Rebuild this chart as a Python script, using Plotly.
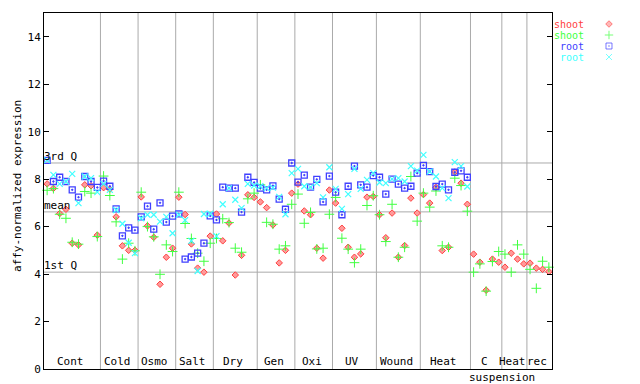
import plotly.graph_objects as go

# ---------------- data ----------------
group_labels = ["Cont", "Cold", "Osmo", "Salt", "Dry", "Gen", "Oxi", "UV",
                "Wound", "Heat", "C suspension", "Heat", "rec"]
group_sizes = [9, 6, 6, 6, 7, 6, 6, 7, 7, 8, 5, 4, 4]

shoot_a = [7.8, 7.61, 6.55, 6.73, 5.3, 5.23, 7.76, 7.72, 5.64,
           7.64, 7.58, 6.41, 5.19, 5.0, 5.0,
           7.25, 6.03, 5.55, 3.57, 4.71, 5.09,
           7.24, 6.51, 5.27, 4.25, 4.08, 5.6,
           6.53, 5.4, 6.15, 3.96, 4.79, 7.34, 7.23,
           7.04, 6.8, 6.07, 4.47, 5.0, 7.41,
           7.79, 6.66, 6.5, 5.09, 4.67, 7.54,
           6.99, 5.93, 5.13, 4.71, 4.85, 7.24, 7.27,
           6.5, 5.53, 6.57, 4.71, 5.2, 7.2, 6.57,
           7.35, 6.99, 7.65, 4.99, 5.13, 8.3, 7.83, 6.94,
           4.84, 4.5, 3.32, 4.63, 4.5,
           4.29, 4.88, 4.63, 4.43,
           4.46, 4.25, 4.2, 4.1]
shoot_b = [7.53, 7.6, 6.52, 6.35, 5.34, 5.26, 7.48, 7.41, 5.58,
           8.13, 7.31, 6.2, 4.63, 5.3, 4.98,
           7.45, 6.0, 5.57, 3.99, 5.23, 4.95,
           7.45, 6.13, 5.5, 4.88, 4.54, 5.3,
           5.5, 6.33, 6.17, 5.09, 4.92, 7.17, 7.41,
           7.76, 6.18, 6.1, 5.05, 5.19, 6.94,
           7.37, 6.14, 6.6, 5.06, 5.09, 6.52,
           7.23, 5.51, 5.05, 4.48, 5.05, 6.89, 7.3,
           6.5, 5.37, 6.94, 4.71, 5.13, 8.11, 6.23,
           7.41, 6.82, 7.5, 5.19, 5.13, 8.04, 7.73, 6.65,
           4.08, 4.43, 3.28, 4.53, 4.95,
           4.84, 4.08, 5.23, 4.84,
           4.2, 3.4, 4.54, 4.29]
root_a = [8.79, 7.9, 8.08, 7.9, 7.55, 7.24, 8.11, 7.9, 7.65,
          7.92, 7.7, 6.75, 5.61, 5.95, 5.85,
          6.41, 6.86, 5.89, 7.0, 6.19, 6.44,
          6.54, 4.63, 4.72, 4.88, 5.3, 6.45,
          6.28, 7.66, 7.62, 7.62, 6.61, 8.08, 7.86,
          7.62, 7.55, 7.72, 7.16, 6.73, 8.68,
          7.87, 8.17, 7.66, 7.99, 7.04, 8.13,
          7.45, 6.5, 7.7, 8.55, 7.76, 7.66, 8.15,
          8.08, 7.37, 8.0, 7.79, 7.62, 7.7, 8.25,
          8.58, 8.32, 7.69, 7.79, 7.55, 8.29, 8.35, 8.08] + [None] * 13
root_b = [8.8, 8.18, 7.8, 7.9, 8.22, 6.99, 8.11, 8.04, 7.45,
          7.8, 7.55, 6.7, 6.12, 5.32, 4.88,
          6.35, 6.5, 6.5, 6.21, 6.41, 5.72,
          6.5, 6.27, 5.4, 4.13, 6.53, 6.54,
          5.6, 6.94, 7.62, 7.13, 6.78, 7.8, 7.73,
          7.7, 7.62, 7.64, 7.25, 6.52, 8.25,
          8.43, 7.7, 7.66, 7.83, 7.23, 8.5,
          7.59, 6.75, 7.37, 8.43, 7.59, 7.97, 8.25,
          7.86, 7.83, 8.0, 8.04, 7.9, 8.55, 8.36,
          9.02, 8.32, 8.11, 7.62, 7.2, 8.72, 8.55, 7.69] + [None] * 13

quartile_labels = ["3rd Q", "mean", "1st Q"]
quartile_values = [8.68, 6.62, 4.08]

series_names = ["shoot", "shoot", "root", "root"]
y_ticks = [0, 2, 4, 6, 8, 10, 12, 14]

# ---------------- figure ----------------
FONT = "DejaVu Sans Mono"
OFF = 8                      # page body margin of the html page
W, H = 640 - OFF, 384 - OFF
ML, MT = 44 - OFF, 13 - OFF
PLOT_BOTTOM = 369            # in page pixels
MB = H - (PLOT_BOTTOM - OFF)
plot_w = 508
paper_w = W - ML
main_dom = plot_w / paper_w

n = len(shoot_a)
xs = list(range(n))

styles = [
    dict(symbol="diamond", size=5, color="#ff9a9a", line=dict(color="#ff4040", width=1)),
    dict(symbol="cross-thin", size=7, color="#40ff40", line=dict(color="#40ff40", width=1)),
    dict(symbol="square-open-dot", size=6, color="#4040ff", line=dict(color="#4040ff", width=1.3)),
    dict(symbol="x-thin", size=6, color="#40ffff", line=dict(color="#40ffff", width=1.2)),
]
text_colors = ["#ff4040", "#40ff40", "#4040ff", "#40ffff"]

fig = go.Figure()
for vals, st, nm in zip([shoot_a, shoot_b, root_a, root_b], styles, series_names):
    fig.add_trace(go.Scatter(x=xs, y=vals, mode="markers", marker=st, name=nm,
                             showlegend=False, cliponaxis=False))

# legend (manual, on an overlay axis measured in page pixels)
leg_rows = [24, 35, 46, 57]
x2_lo = 44 + (main_dom + 0.005) * paper_w
fig.add_trace(go.Scatter(x=[609] * 4, y=leg_rows, mode="markers",
                         marker=dict(symbol=[s["symbol"] for s in styles],
                                     size=[5, 6, 6, 6],
                                     color=[s["color"] for s in styles],
                                     line=dict(color=text_colors, width=1)),
                         xaxis="x2", yaxis="y2", showlegend=False))
for nm, col, yy in zip(series_names, text_colors, leg_rows):
    fig.add_annotation(x=586, y=yy, xref="x2", yref="y2", text=nm, showarrow=False,
                       xanchor="right", yanchor="middle",
                       font=dict(family=FONT, size=10, color=col))

# group separators and labels
shapes = []
start = 0
for lab, sz in zip(group_labels, group_sizes):
    end = start + sz
    if end < n:
        shapes.append(dict(type="line", xref="x", yref="paper", x0=end - 0.5, x1=end - 0.5,
                           y0=0, y1=1, line=dict(color="#aaaaaa", width=1), layer="below"))
    cx = (start + end - 1) / 2
    words = lab.split(" ")
    fig.add_annotation(x=cx, y=0, xref="x", yref="y", text=words[0], showarrow=False,
                       xanchor="center", yanchor="bottom", yshift=-1, xshift=-2,
                       font=dict(family=FONT, size=11, color="black"))
    if len(words) > 1:
        fig.add_annotation(x=cx, y=0, xref="x", yref="y", text=" ".join(words[1:]),
                           showarrow=False, xanchor="center", yanchor="top",
                           yshift=0, xshift=16,
                           font=dict(family=FONT, size=11, color="black"))
    start = end

for lab, v in zip(quartile_labels, quartile_values):
    shapes.append(dict(type="line", xref="paper", yref="y", x0=0, x1=main_dom, y0=v, y1=v,
                       line=dict(color="#aaaaaa", width=1), layer="below"))
    fig.add_annotation(x=-0.5, y=v, xref="x", yref="y", text=lab, showarrow=False,
                       xanchor="left", yanchor="bottom", yshift=-2, xshift=-2,
                       font=dict(family=FONT, size=11, color="black"))

fig.add_annotation(x=0, y=0.5, xref="paper", yref="paper", text="affy-normalized expression",
                   textangle=-90, showarrow=False, xanchor="center", yanchor="middle",
                   xshift=-27, yshift=5, font=dict(family=FONT, size=11, color="black"))

fig.update_layout(
    width=W, height=H,
    margin=dict(l=ML, r=0, t=MT, b=MB, pad=0),
    paper_bgcolor="white", plot_bgcolor="white",
    shapes=shapes,
    xaxis=dict(domain=[0, main_dom], range=[-0.5, n - 0.5], showgrid=False, zeroline=False,
               showticklabels=False, ticks="", showline=True, linecolor="black",
               linewidth=1, mirror=True),
    yaxis=dict(range=[0, 15], tickvals=y_ticks, showgrid=False, zeroline=False,
               ticks="inside", ticklen=5, tickcolor="black", showline=True,
               linecolor="black", linewidth=1, mirror="ticks",
               tickfont=dict(family=FONT, size=11, color="black")),
    xaxis2=dict(domain=[main_dom + 0.005, 1], range=[x2_lo, 640],
                visible=False, anchor="y2"),
    yaxis2=dict(domain=[0, 1], range=[PLOT_BOTTOM, 13], visible=False, anchor="x2"),
    showlegend=False,
)

fig.write_html("out.html")
